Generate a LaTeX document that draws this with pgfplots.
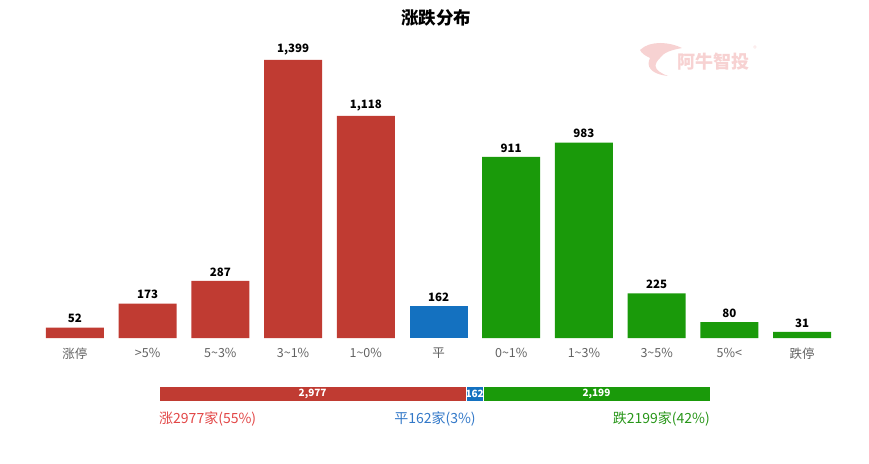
\documentclass[border=0pt]{standalone}
\usepackage{fontspec}
\setmainfont{Noto Sans CJK SC}
\usepackage{pgfplots}
\pgfplotsset{compat=1.18}
\definecolor{cred}{RGB}{192,59,50}
\definecolor{cblue}{RGB}{20,113,192}
\definecolor{cgreen}{RGB}{26,154,10}
\definecolor{tred}{RGB}{226,70,70}
\definecolor{tblue}{RGB}{50,120,200}
\definecolor{tgreen}{RGB}{40,150,25}
\definecolor{wm}{RGB}{247,210,210}
\newcommand{\fs}[1]{\fontsize{#1bp}{#1bp}\selectfont}
\begin{document}
\begin{tikzpicture}[x=1bp,y=1bp]
\path[use as bounding box] (0,0) rectangle (869,-464);
% title
\node[font=\fs{17.5}\bfseries] at (436,-18) {涨跌分布};
% watermark
\fill[wm] (640,-50) .. controls (650,-40) and (670,-42) .. (682,-48) .. controls (672,-50) and (664,-52) .. (660,-58) .. controls (654,-64) and (652,-70) .. (668,-76) .. controls (650,-74) and (646,-66) .. (650,-58) .. controls (646,-56) and (642,-54) .. (640,-50) -- cycle;
\node[font=\fs{18}\bfseries, text=wm, anchor=west, inner sep=0] at (677,-62) {阿牛智投};
\node[font=\fs{7}, text=wm] at (755,-49) {®};
\begin{axis}[
  at={(38.5bp,-338bp)}, anchor=south west,
  scale only axis, width=800bp, height=278bp,
  xmin=-0.5, xmax=10.5, ymin=0, ymax=1399,
  hide y axis, axis x line*=bottom, x axis line style={draw=none},
  major tick length=0pt, clip=false,
  ybar, bar width=58bp, bar shift=0pt,
  xtick={0,...,10},
  xticklabels={涨停,>5\%,5{\char`\~}3\%,3{\char`\~}1\%,1{\char`\~}0\%,平,0{\char`\~}1\%,1{\char`\~}3\%,3{\char`\~}5\%,5\%<,跌停},
  x tick label style={font=\fs{12.5}, text=black!62, anchor=north, yshift=-6.5bp},
  nodes near coords={\pgfmathprintnumber[assume math mode=true,1000 sep={,}]{\pgfplotspointmeta}},
  nodes near coords style={font=\fs{11.5}\bfseries, text=black, anchor=south, yshift=1bp},
]
\addplot[fill=cred, draw=none] coordinates {(0,52) (1,173) (2,287) (3,1399) (4,1118)};
\addplot[fill=cblue, draw=none] coordinates {(5,162)};
\addplot[fill=cgreen, draw=none] coordinates {(6,911) (7,983) (8,225) (9,80) (10,31)};
\end{axis}
\begin{axis}[
  at={(159bp,-401bp)}, anchor=south west,
  scale only axis, width=551bp, height=15bp,
  xmin=0, xmax=5338, ymin=-0.5, ymax=0.5,
  hide axis, clip=false,
  xbar stacked, bar width=15bp,
]
\addplot[fill=cred, draw=white, line width=0.6bp] coordinates {(2977,0)};
\addplot[fill=cblue, draw=white, line width=0.6bp] coordinates {(162,0)};
\addplot[fill=cgreen, draw=white, line width=0.6bp] coordinates {(2199,0)};
\end{axis}
\begin{axis}[
  at={(159bp,-401bp)}, anchor=south west,
  scale only axis, width=551bp, height=15bp,
  xmin=0, xmax=5338, ymin=-0.5, ymax=0.5,
  hide axis, clip=false,
]
\addplot[only marks, mark=none, nodes near coords, point meta=explicit symbolic,
  nodes near coords style={font=\fs{10}\bfseries, text=white, anchor=center}]
  coordinates {(1488.5,0) [2,977] (3058,0) [162] (4238,0) [2,199]};
\end{axis}
\node[font=\fs{14}, text=tred, anchor=west, inner sep=0] at (159,-419) {涨2977家(55\%)};
\node[font=\fs{14}, text=tblue, inner sep=0] at (435,-419) {平162家(3\%)};
\node[font=\fs{14}, text=tgreen, anchor=east, inner sep=0] at (710,-419) {跌2199家(42\%)};
\end{tikzpicture}
\end{document}
